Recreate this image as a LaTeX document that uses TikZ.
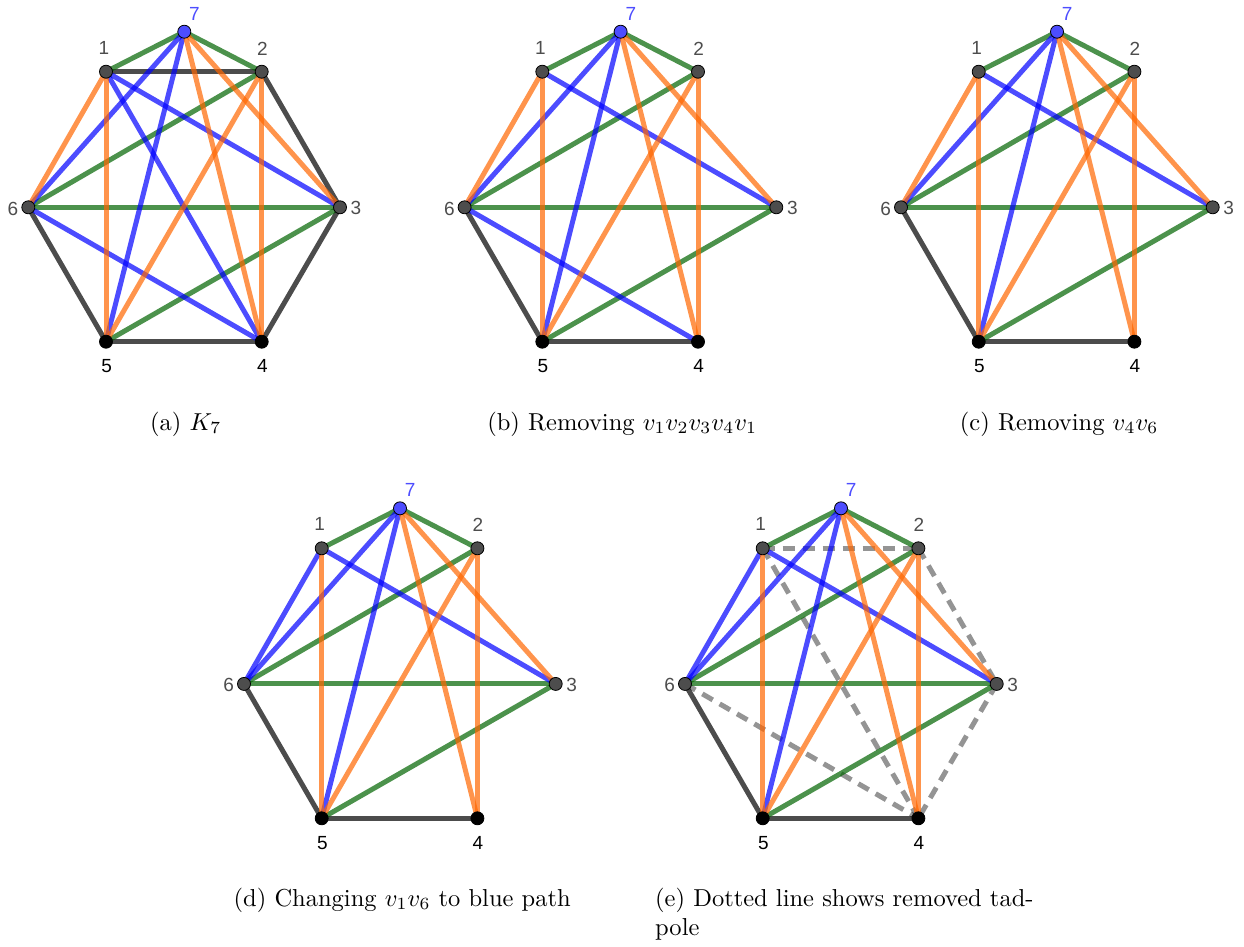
\documentclass[tikz,border=0pt]{standalone}
\usepackage{fontspec}
\newfontfamily\lblfont{Liberation Sans}
\pgfdeclarelayer{edgelayer}
\pgfsetlayers{edgelayer,main}
\definecolor{ggreen}{RGB}{0,100,0}
\definecolor{gorange}{RGB}{255,102,0}
\definecolor{gblue}{RGB}{0,0,255}
\definecolor{gdark}{RGB}{77,77,77}
\definecolor{gvblue}{RGB}{77,77,255}
\tikzset{
  gedge/.style={line width=5pt, draw opacity=0.7},
  grayE/.style={gedge, draw=black},
  greenE/.style={gedge, draw=ggreen},
  orangeE/.style={gedge, draw=gorange},
  blueE/.style={gedge, draw=gblue},
  dashE/.style={line width=5pt, draw=black, draw opacity=0.42, dash pattern=on 12pt off 8pt},
  vtx/.style={circle, draw=black, line width=0.8pt, minimum size=13pt, inner sep=0pt, fill=gdark},
  vblack/.style={vtx, fill=black},
  vblue/.style={vtx, fill=gvblue},
  lbl/.style={font=\lblfont\fontsize{19}{22}\selectfont, inner sep=0pt, text=gdark},
  captext/.style={font=\normalsize, inner sep=0pt, anchor=base},
}
\newcommand{\capt}[1]{\scalebox{2.45}{#1}}
\newcommand{\mkverts}[3]{%
  \begin{scope}[shift={(#2,#3)}]
    \node[vtx] (#1v1) at (0,0) {};
    \node[vtx] (#1v2) at (155.7,0) {};
    \node[vtx] (#1v3) at (234,135.6) {};
    \node[vblack] (#1v4) at (155.7,270) {};
    \node[vblack] (#1v5) at (0,270) {};
    \node[vtx] (#1v6) at (-77.7,135.6) {};
    \node[vblue] (#1v7) at (78.3,-40) {};
    \node[lbl] (#1l1) at (-2,-24) {1};
    \node[lbl] (#1l2) at (156.3,-23) {2};
    \node[lbl] (#1l3) at (250,136.5) {3};
    \node[lbl, text=black] (#1l4) at (156.3,294.5) {4};
    \node[lbl, text=black] (#1l5) at (0.6,294.5) {5};
    \node[lbl] (#1l6) at (-93,137) {6};
    \node[lbl, text=gvblue] (#1l7) at (88.5,-58) {7};
  \end{scope}}
\newcommand{\mkedges}[3]{%
  \begin{pgfonlayer}{edgelayer}
    \foreach \p/\q in {#3} \draw[#2] (#1v\p.center) -- (#1v\q.center);
  \end{pgfonlayer}}
\begin{document}
\begin{tikzpicture}[x=1pt, y=-1pt]
\useasboundingbox (0,0) rectangle (1244,946);
% (a)
\mkverts{a}{106}{71.7}
\mkedges{a}{grayE}{1/2,2/3,3/4,4/5,5/6}
\mkedges{a}{greenE}{7/1,7/2,2/6,6/3,3/5}
\mkedges{a}{blueE}{7/6,7/5,1/4,1/3,6/4}
\mkedges{a}{orangeE}{1/6,1/5,7/4,7/3,2/5,2/4}
% (b)
\mkverts{b}{542.3}{71.7}
\mkedges{b}{grayE}{4/5,5/6}
\mkedges{b}{greenE}{7/1,7/2,2/6,6/3,3/5}
\mkedges{b}{blueE}{7/6,7/5,1/3,6/4}
\mkedges{b}{orangeE}{1/6,1/5,7/4,7/3,2/5,2/4}
% (c)
\mkverts{c}{978.7}{71.7}
\mkedges{c}{grayE}{4/5,5/6}
\mkedges{c}{greenE}{7/1,7/2,2/6,6/3,3/5}
\mkedges{c}{blueE}{7/6,7/5,1/3}
\mkedges{c}{orangeE}{1/6,1/5,7/4,7/3,2/5,2/4}
% (d)
\mkverts{d}{321.7}{548.3}
\mkedges{d}{grayE}{4/5,5/6}
\mkedges{d}{greenE}{7/1,7/2,2/6,6/3,3/5}
\mkedges{d}{blueE}{7/6,7/5,1/3,1/6}
\mkedges{d}{orangeE}{1/5,7/4,7/3,2/5,2/4}
% (e)
\mkverts{e}{762.7}{548.3}
\mkedges{e}{dashE}{1/2,2/3,3/4,1/4,6/4}
\mkedges{e}{grayE}{4/5,5/6}
\mkedges{e}{greenE}{7/1,7/2,2/6,6/3,3/5}
\mkedges{e}{blueE}{7/6,7/5,1/3,1/6}
\mkedges{e}{orangeE}{1/5,7/4,7/3,2/5,2/4}
% captions
\node[captext] (capa) at (185.8,430) {\capt{(a) $K_7$}};
\node[captext] (capb) at (622.2,430) {\capt{(b) Removing $v_1v_2v_3v_4v_1$}};
\node[captext] (capc) at (1059.2,430) {\capt{(c) Removing $v_4v_6$}};
\node[captext] (capd) at (402.2,906) {\capt{(d) Changing $v_1v_6$ to blue path}};
\node[captext, anchor=base west] (cape1) at (655,906) {\capt{(e) Dotted line shows removed tad-}};
\node[captext, anchor=base west] (cape2) at (655,935) {\capt{pole}};
\end{tikzpicture}
\end{document}
